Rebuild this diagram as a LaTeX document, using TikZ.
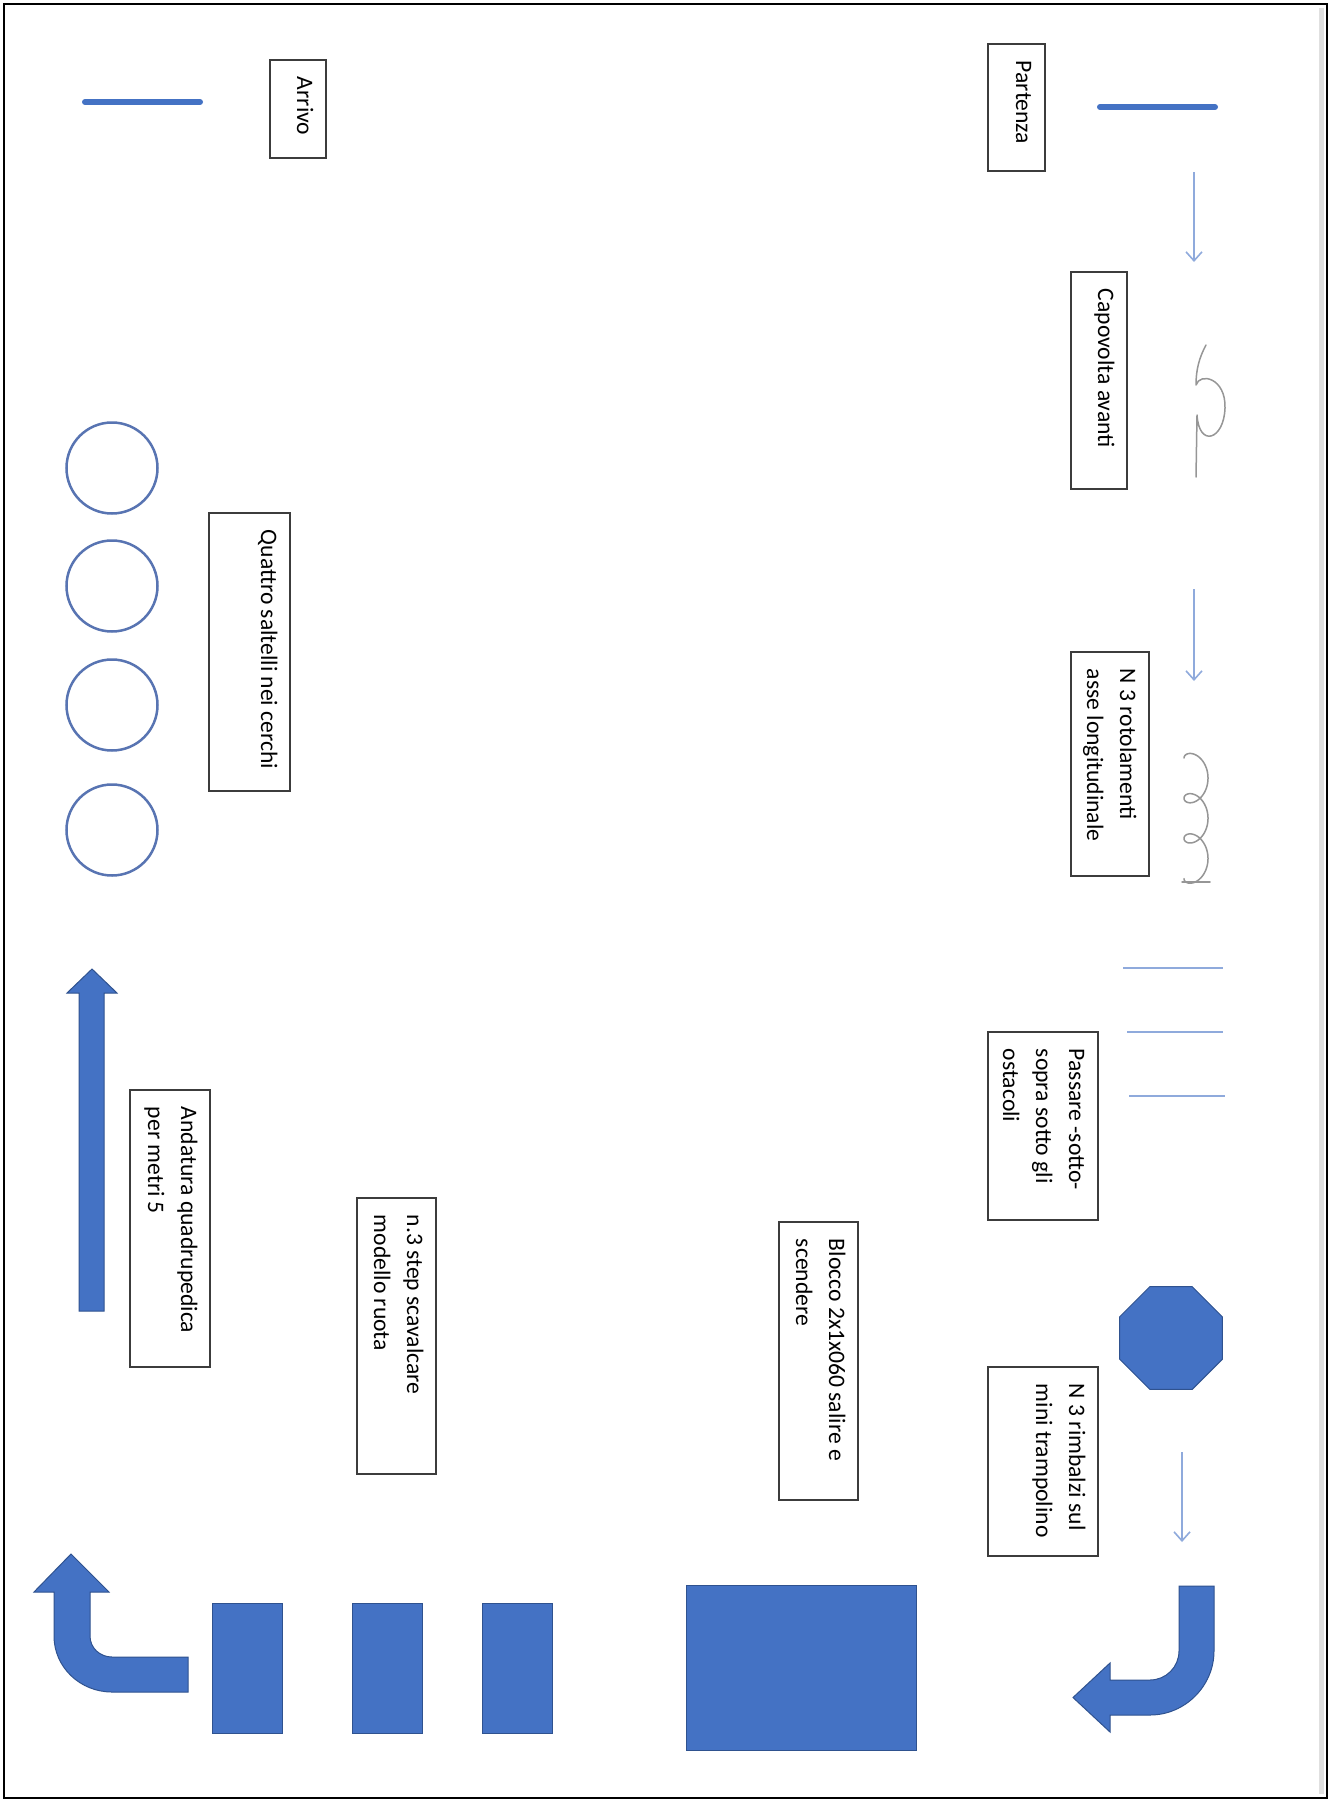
\documentclass[tikz,border=0pt]{standalone}
\usepackage{fontspec}
\setmainfont{Carlito}
\usetikzlibrary{arrows.meta,shapes.geometric}
\definecolor{oblue}{RGB}{68,114,196}
\definecolor{oedge}{RGB}{47,82,143}
\definecolor{lblue}{RGB}{143,170,220}
\definecolor{cblue}{RGB}{88,116,178}
\definecolor{sqgray}{RGB}{150,150,150}
\definecolor{bxline}{RGB}{60,60,60}
\newcommand\bxt[3]{\parbox[t][#2][t]{#1}{\raggedright\strut #3}}
\begin{document}
\begin{tikzpicture}[x=1pt,y=-1pt,
  lbl/.style={draw=bxline, line width=1.8pt, rotate=-90, anchor=north west,
    inner xsep=17pt, inner ysep=6pt, fill=white,
    font=\fontsize{23.6}{33}\selectfont},
  bluebox/.style={fill=oblue, draw=oedge, line width=1pt, inner sep=0pt, anchor=north west},
  blueshape/.style={fill=oblue, draw=oedge, line width=1pt},
  thinarrow/.style={draw=lblue, line width=1.6pt, -{Straight Barb[length=9pt,width=16pt]}},
  hurdle/.style={draw=lblue, line width=2.5pt},
  mark line/.style={draw=oblue, line width=6pt, line cap=round},
  ring/.style={circle, draw=cblue, line width=2.5pt, minimum size=91pt, inner sep=0pt},
  squig/.style={draw=sqgray, line width=1.5pt, line cap=round, line join=round}]
\useasboundingbox (0,0) rectangle (1332,1801);
\fill[white] (0,0) rectangle (1332,1801);
% frame
\draw[black!12, line width=5pt] (1321,8) -- (1321,1794);
\draw[black, line width=2.5pt] (4,4) rectangle (1327,1798);

% start and finish lines
\coordinate (finA) at (85,102);  \coordinate (finB) at (200,102);
\coordinate (stA) at (1100,107); \coordinate (stB) at (1215,107);
\draw[mark line] (finA) -- (finB);
\draw[mark line] (stA) -- (stB);

% text boxes
\node[lbl] (arrivo) at (327,59) {\bxt{64pt}{44pt}{Arrivo}};
\node[lbl] (partenza) at (1046,43) {\bxt{93pt}{45pt}{Partenza}};
\node[lbl] (capovolta) at (1128,271) {\bxt{183pt}{44pt}{Capovolta avanti}};
\node[lbl] (rotol) at (1150,651) {\bxt{190pt}{66pt}{N 3 rotolamenti\\asse longitudinale}};
\node[lbl] (passare) at (1099,1031) {\bxt{154pt}{98pt}{Passare -sotto-\\sopra sotto gli\\ostacoli}};
\node[lbl] (rimbalzi) at (1099,1366) {\bxt{155pt}{98pt}{N 3 rimbalzi sul\\mini trampolino}};
\node[lbl] (blocco) at (859,1221) {\bxt{244pt}{67pt}{Blocco 2x1x060 salire e\\scendere}};
\node[lbl] (stepbx) at (437,1197) {\bxt{242pt}{67pt}{n.3 step scavalcare\\modello ruota}};
\node[lbl] (andatura) at (211,1089) {\bxt{243pt}{68pt}{Andatura quadrupedica\\per metri 5}};
\node[lbl] (quattro) at (291,512) {\bxt{244pt}{69pt}{Quattro saltelli nei cerchi}};

% thin arrows
\coordinate (a1s) at (1194,172);  \coordinate (a1e) at (1194,262);
\coordinate (a2s) at (1194,589);  \coordinate (a2e) at (1194,681);
\coordinate (a3s) at (1182,1452); \coordinate (a3e) at (1182,1542);
\draw[thinarrow] (a1s) -- (a1e);
\draw[thinarrow] (a2s) -- (a2e);
\draw[thinarrow] (a3s) -- (a3e);

% forward roll scribble
\draw[squig] (1206,345) .. controls (1199,358) and (1196,370) .. (1196,385)
  .. controls (1200,372) and (1226,378) .. (1225,408)
  .. controls (1224,440) and (1199,448) .. (1197,415)
  -- (1196,477);

% longitudinal rolls scribble
\draw[squig] plot[domain=0:18.85, samples=240, smooth]
  ({1196 - 12*cos(\x r)}, {758 + 6.4*\x - 13*sin(\x r)});
\draw[squig] (1182,882) -- (1210,882);

% hurdles
\draw[hurdle] (1123,968) -- (1223,968);
\draw[hurdle] (1127,1032) -- (1223,1032);
\draw[hurdle] (1129,1096) -- (1225,1096);

% mini trampoline (octagon)
\node[regular polygon, regular polygon sides=8, minimum size=111pt, inner sep=0pt,
  fill=oblue, draw=oedge, line width=1pt] (tramp) at (1171,1338) {};

% turning arrow (right side)
\draw[blueshape] (1179,1586) -- (1214,1586) -- (1214,1651)
  .. controls (1214,1686) and (1185,1715) .. (1150,1715)
  -- (1110,1715) -- (1110,1732) -- (1073,1697.5) -- (1110,1663) -- (1110,1680)
  -- (1150,1680) .. controls (1166,1680) and (1179,1667) .. (1179,1651) -- cycle;

% block
\node[bluebox, minimum width=230pt, minimum height=165pt] (bigblock) at (686,1585) {};

% three steps
\node[bluebox, minimum width=70pt, minimum height=130pt] (s1) at (212,1603) {};
\node[bluebox, minimum width=70pt, minimum height=130pt] (s2) at (352,1603) {};
\node[bluebox, minimum width=70pt, minimum height=130pt] (s3) at (482,1603) {};

% turning arrow (left side)
\draw[blueshape] (71,1554) -- (109,1592) -- (90,1592) -- (90,1636)
  .. controls (90,1648) and (100,1657) .. (112,1657) -- (188,1657) -- (188,1692)
  -- (112,1692) .. controls (80,1692) and (54,1667) .. (54,1636)
  -- (54,1592) -- (34,1592) -- cycle;

% long up arrow
\draw[blueshape] (92,969) -- (117,993) -- (104,993) -- (104,1311) -- (79,1311)
  -- (79,993) -- (67,993) -- cycle;

% hoops
\node[ring] (h1) at (112,468) {};
\node[ring] (h2) at (112,586) {};
\node[ring] (h3) at (112,705) {};
\node[ring] (h4) at (112,830) {};
\end{tikzpicture}
\end{document}
